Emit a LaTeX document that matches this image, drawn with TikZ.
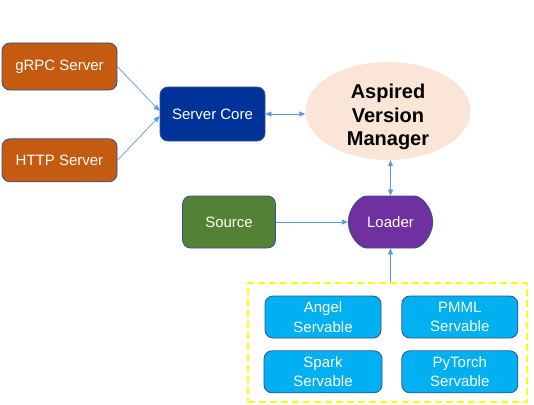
\documentclass[tikz,border=0pt]{standalone}
\usepackage{fontspec}
\setmainfont{Liberation Sans}
\usepackage{xcolor}
\usetikzlibrary{arrows.meta,positioning,shapes.geometric,shapes.misc}
\definecolor{naranja}{HTML}{C55A11}
\definecolor{marino}{HTML}{003399}
\definecolor{melocoton}{HTML}{FBE5D6}
\definecolor{verde}{HTML}{548235}
\definecolor{morado}{HTML}{7030A0}
\definecolor{celeste}{HTML}{00B0F0}
\definecolor{borde}{HTML}{2F528F}
\definecolor{flecha}{HTML}{5B9BD5}
\definecolor{amarillo}{HTML}{FFFF00}

\begin{document}
\begin{tikzpicture}[x=1pt,y=1pt,
  box/.style={draw=borde,line width=0.8pt,rounded corners=8pt,text=white,align=center,font=\fontsize{15}{19.5}\selectfont},
  flow/.style={draw=flecha,line width=0.7pt,-{Triangle[length=6pt,width=5pt]}},
  biflow/.style={flow,{Triangle[length=6pt,width=5pt]}-{Triangle[length=6pt,width=5pt]}}]
\useasboundingbox (0,0) rectangle (534,-404);
\node[box,fill=naranja,minimum width=115pt,minimum height=47pt] (grpc) at (59.5,-66.5) {gRPC Server};
\node[box,fill=naranja,minimum width=115pt,minimum height=43pt,below=48pt of grpc] (http) {HTTP Server};
\node[box,fill=marino,minimum width=105pt,minimum height=54pt] (core) at (212.5,-114) {Server Core};
\node[ellipse,fill=melocoton,minimum width=165pt,minimum height=98pt,inner sep=0pt,
  label={[yshift=-6pt,align=center,font=\fontsize{20}{23.5}\selectfont\bfseries]center:Aspired\\Version\\Manager}] (avm) at (388,-111) {};
\node[box,rounded rectangle,fill=morado,minimum width=91pt,minimum height=52pt] (loader) at (390.5,-222) {Loader};
\node[box,fill=verde,minimum width=93pt,minimum height=52pt,left=72pt of loader] (source) {Source};
\node[draw=amarillo,line width=1.5pt,dash pattern=on 7pt off 4pt,minimum width=279pt,minimum height=119pt] (pool) at (387.5,-342.5) {};
\node[box,fill=celeste,minimum width=116pt,minimum height=42pt] (angel) at (323,-317) {Angel\\Servable};
\node[box,fill=celeste,minimum width=116pt,minimum height=42pt,right=20pt of angel] (pmml) {PMML\\Servable};
\node[box,fill=celeste,minimum width=118pt,minimum height=42pt,below=12pt of angel] (spark) {Spark\\Servable};
\node[box,fill=celeste,minimum width=116pt,minimum height=42pt,below=12pt of pmml] (pytorch) {PyTorch\\Servable};
\draw[flow] (grpc.east) -- ([yshift=3pt]core.west); \draw[flow] (http.east) -- ([yshift=-2pt]core.west);
\draw[biflow] (core.east) -- (core.east -| avm.west); \draw[biflow] (loader.north |- avm.south) -- (loader.north);
\draw[flow] (source) -- (loader); \draw[flow] (pool.north -| loader.south) -- (loader.south);
\end{tikzpicture}
\end{document}
